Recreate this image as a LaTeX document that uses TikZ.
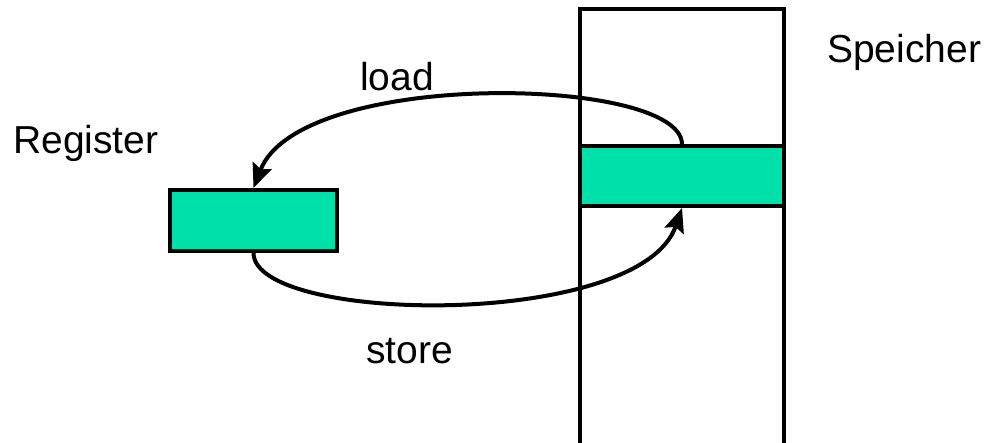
\documentclass[tikz,border=0pt]{standalone}
\usepackage{fontspec}
\setmainfont{Liberation Sans}
\usetikzlibrary{arrows.meta}
\definecolor{cellfill}{RGB}{0,225,170}
\tikzset{
  cell/.style={draw=black, line width=4pt, fill=cellfill, inner sep=0pt},
  wall/.style={draw=black, line width=4pt},
  flow/.style={draw=black, line width=4pt, -{Stealth[length=24pt,width=20pt,inset=4pt]}},
  label/.style={font=\fontsize{39}{44}\selectfont, inner sep=0pt, anchor=base west}
}
\begin{document}
\begin{tikzpicture}[x=1pt,y=-1pt]
  \useasboundingbox (0,0) rectangle (990,442);
  % memory column, open at the bottom
  \draw[wall] (580,460) -- (580,9) -- (784,9) -- (784,460);
  % memory cell and register
  \node[cell, minimum width=204pt, minimum height=60pt] (mem) at (682,176) {};
  \node[cell, minimum width=167pt, minimum height=61pt] (reg) at (253.5,220.5) {};
  % load and store transfers
  \draw[flow] (mem.north) .. controls (681,76) and (300,68) .. (reg.north);
  \draw[flow] (reg.south) .. controls (254,324) and (640,330) .. (mem.south);
  % labels
  \node[label] (lreg) at (13,153) {Register};
  \node[label] (lmem) at (827,62) {Speicher};
  \node[label] (lload) at (360,90) {load};
  \node[label] (lstore) at (366,363) {store};
\end{tikzpicture}
\end{document}
